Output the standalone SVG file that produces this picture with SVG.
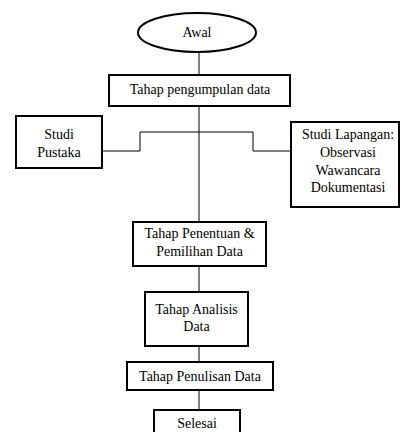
<svg xmlns="http://www.w3.org/2000/svg" width="401" height="432" viewBox="0 0 401 432">
<style>
.n{fill:#fff;stroke:#000;stroke-width:2}
.t{font-size:14px;fill:#000;text-anchor:middle}
.c{fill:none;stroke:#000;stroke-width:1}
</style>
<rect width="401" height="432" fill="#fff"/>
<g id="connectors">
<line class="c" x1="199" y1="52" x2="199" y2="75"/>
<line class="c" x1="199" y1="106" x2="199" y2="222"/>
<line class="c" x1="199" y1="266" x2="199" y2="292"/>
<line class="c" x1="199" y1="346" x2="199" y2="362"/>
<line class="c" x1="199" y1="390" x2="199" y2="410"/>
<polyline class="c" points="102,151 140,151 140,132 253,132 253,151 291,151"/>
</g>
<g font-family="Liberation Serif, Times New Roman, serif">
<g id="awal">
<ellipse class="n" cx="197" cy="32.5" rx="59" ry="19.5"/>
<text class="t" x="197" y="37">Awal</text>
</g>
<g id="pengumpulan">
<rect class="n" x="109" y="75" width="181" height="31"/>
<text class="t" x="200" y="94">Tahap pengumpulan data</text>
</g>
<g id="studi-pustaka">
<rect class="n" x="16" y="116" width="86" height="52"/>
<text class="t" x="59" y="139">Studi</text>
<text class="t" x="59" y="157">Pustaka</text>
</g>
<g id="studi-lapangan">
<rect class="n" x="291" y="122" width="108" height="85"/>
<text class="t" x="348" y="139">Studi Lapangan:</text>
<text class="t" x="348" y="157">Observasi</text>
<text class="t" x="348" y="175">Wawancara</text>
<text class="t" x="348" y="192">Dokumentasi</text>
</g>
<g id="penentuan">
<rect class="n" x="133" y="222" width="133" height="44"/>
<text class="t" x="199.5" y="238">Tahap Penentuan &amp;</text>
<text class="t" x="199.5" y="256">Pemilihan Data</text>
</g>
<g id="analisis">
<rect class="n" x="145" y="292" width="103" height="54"/>
<text class="t" x="196.5" y="314">Tahap Analisis</text>
<text class="t" x="196.5" y="331">Data</text>
</g>
<g id="penulisan">
<rect class="n" x="127" y="362" width="146" height="28"/>
<text class="t" x="200" y="381">Tahap Penulisan Data</text>
</g>
<g id="selesai">
<rect class="n" x="154" y="410" width="86" height="30"/>
<text class="t" x="197" y="428">Selesai</text>
</g>
</g>
</svg>
